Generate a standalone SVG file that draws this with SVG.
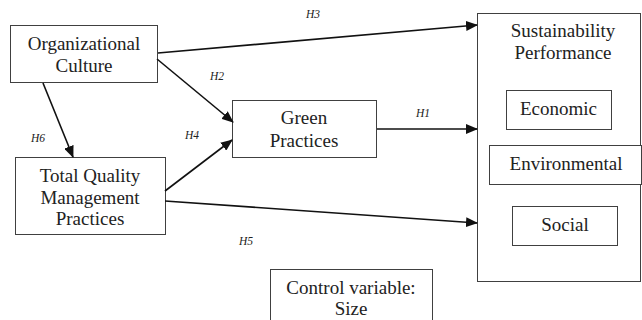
<svg xmlns="http://www.w3.org/2000/svg" width="642" height="320" viewBox="0 0 642 320">
<style>
.box{fill:#fff;stroke:#404040;stroke-width:1}
text{font-family:'Liberation Serif','Times New Roman',Times,'DejaVu Serif',serif}
.t{font-size:19px;fill:#222;text-anchor:middle}
.h{font-size:11.5px;font-style:italic;fill:#222;text-anchor:middle}
.c{stroke:#111;stroke-width:1.6;fill:none;marker-end:url(#ah)}
</style>
<defs>
<marker id="ah" markerWidth="12" markerHeight="10" refX="11" refY="5" orient="auto" markerUnits="userSpaceOnUse">
<path d="M0,0 L12,5 L0,10 Z" fill="#111"/>
</marker>
</defs>
<rect width="642" height="320" fill="#fff"/>
<g id="sustainability">
<rect class="box" x="477.5" y="13.5" width="163" height="268"/>
<text class="t" x="563" y="37">Sustainability</text>
<text class="t" x="563" y="59">Performance</text>
</g>
<g id="economic">
<rect class="box" x="506.5" y="90.5" width="105" height="39"/>
<text class="t" x="558.5" y="115">Economic</text>
</g>
<g id="environmental">
<rect class="box" x="489.5" y="145.5" width="152" height="39"/>
<text class="t" x="566" y="170">Environmental</text>
</g>
<g id="social">
<rect class="box" x="512.5" y="206.5" width="105" height="39"/>
<text class="t" x="565" y="231">Social</text>
</g>
<g id="orgculture">
<rect class="box" x="10.5" y="25.5" width="147" height="57"/>
<text class="t" x="84" y="50">Organizational</text>
<text class="t" x="84" y="72">Culture</text>
</g>
<g id="tqm">
<rect class="box" x="15.5" y="157.5" width="150" height="77"/>
<text class="t" x="90" y="182">Total Quality</text>
<text class="t" x="90" y="203.5">Management</text>
<text class="t" x="90" y="225">Practices</text>
</g>
<g id="green">
<rect class="box" x="232.5" y="100.5" width="144" height="57"/>
<text class="t" x="304" y="124">Green</text>
<text class="t" x="304" y="147">Practices</text>
</g>
<g id="control">
<rect class="box" x="270.5" y="269.5" width="162" height="55"/>
<text class="t" x="351" y="294">Control variable:</text>
<text class="t" x="351" y="315">Size</text>
</g>
<g id="connectors">
<line class="c" x1="158" y1="53" x2="477" y2="25"/>
<line class="c" x1="157" y1="59" x2="233" y2="122"/>
<line class="c" x1="43" y1="83" x2="73" y2="157"/>
<line class="c" x1="165" y1="191" x2="232" y2="140"/>
<line class="c" x1="377" y1="129" x2="477" y2="129"/>
<line class="c" x1="165" y1="201" x2="477" y2="223"/>
</g>
<g id="labels">
<text class="h" x="313" y="18">H3</text>
<text class="h" x="217" y="80">H2</text>
<text class="h" x="38" y="142">H6</text>
<text class="h" x="192" y="139">H4</text>
<text class="h" x="423" y="117">H1</text>
<text class="h" x="246" y="245">H5</text>
</g>
</svg>
